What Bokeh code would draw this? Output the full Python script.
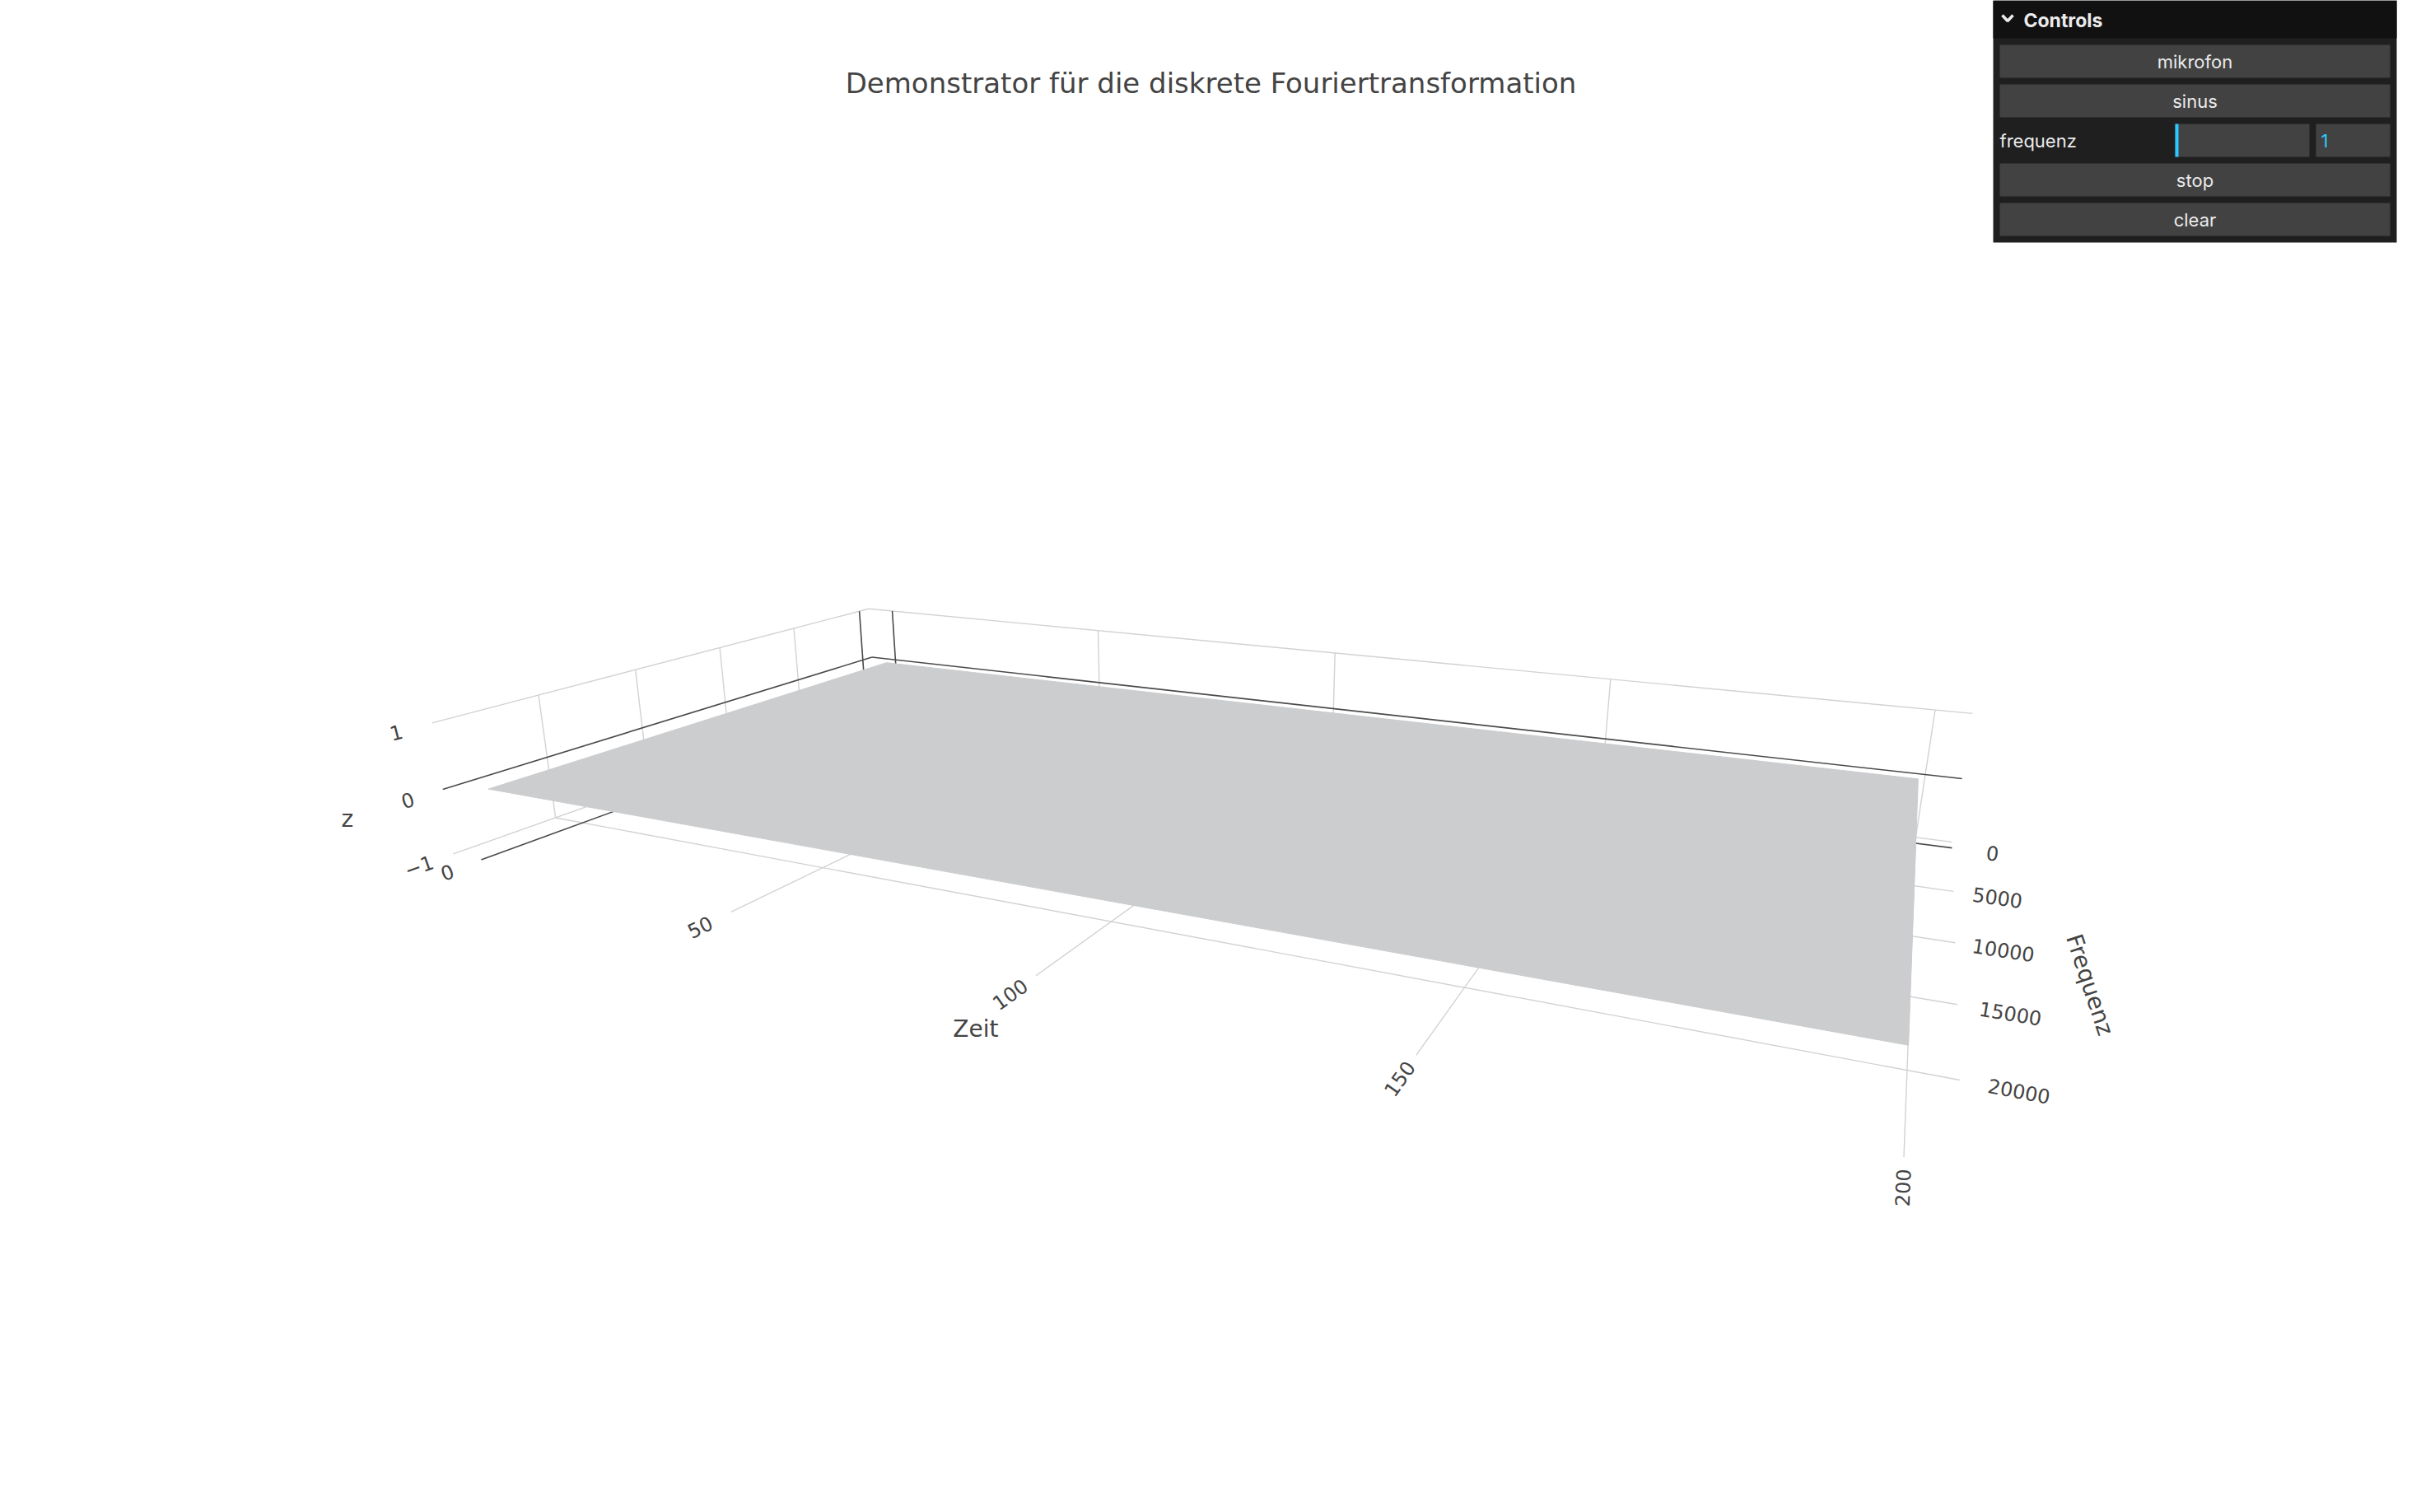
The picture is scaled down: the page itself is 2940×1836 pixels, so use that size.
import numpy as np
from bokeh.plotting import figure
from bokeh.models import Range1d
from bokeh.core.properties import value
from bokeh.embed import file_html
from bokeh.resources import INLINE

# ---------------- data ----------------
TITLE = "Demonstrator für die diskrete Fouriertransformation"
X_TITLE, Y_TITLE, Z_TITLE = "Zeit", "Frequenz", "z"

zeit = [0, 199]                 # time frames
freq = [0, 24000]               # frequency bins (Hz)
z_surface = [[0.0, 0.0],        # cleared spectrum: all zeros
             [0.0, 0.0]]

zeit_ticks = [0, 50, 100, 150, 200]
freq_ticks = [0, 5000, 10000, 15000, 20000]
z_ticks = [-1, 0, 1]
zeit_tick_labels = ["0", "50", "100", "150", "200"]
freq_tick_labels = ["0", "5000", "10000", "15000", "20000"]
z_tick_labels = ["\u22121", "0", "1"]

controls_title = "Controls"
control_rows = ["mikrofon", "sinus", "frequenz", "stop", "clear"]
frequenz_value, frequenz_min, frequenz_max = 1, 1, 1000

# ---------------- scene ranges (plotly-like 1/32 padding) ----------------
def padded(lo, hi):
    d = (hi - lo) / 32.0
    return lo - d, hi + d

X0, X1 = padded(min(zeit), max(zeit))
Y0, Y1 = padded(min(freq), max(freq))
Z0, Z1 = -1.0, 1.0

def norm(X, Y, Z):
    """scene data -> unit cube"""
    return ((np.asarray(X, float) - X0) / (X1 - X0),
            (np.asarray(Y, float) - Y0) / (Y1 - Y0),
            (np.asarray(Z, float) - Z0) / (Z1 - Z0))

# perspective camera: homogeneous projection of the unit scene cube to page pixels (/1000)
CAMERA = np.array([
    [0.6680151, -0.6690021, -0.0287026, 1.0622915],
    [-0.1090039, -0.1140037, -0.1309255, 0.8551930],
    [-0.2698187, -0.2848333, -0.0196239, 1.0000000],
])

def proj(X, Y, Z):
    xn, yn, zn = norm(X, Y, Z)
    h = CAMERA @ np.vstack([np.ravel(xn), np.ravel(yn), np.ravel(zn), np.ones(np.size(xn))])
    return h[0] / h[2] * 1000.0, h[1] / h[2] * 1000.0

def seg(a, b):
    sx, sy = proj([a[0], b[0]], [a[1], b[1]], [a[2], b[2]])
    return list(sx), list(sy)

def angle_of(a, b):
    (ax,), (ay,) = proj([a[0]], [a[1]], [a[2]])
    (bx,), (by,) = proj([b[0]], [b[1]], [b[2]])
    return float(np.arctan2(-(by - ay), bx - ax))

# ---------------- figure ----------------
W, H = 2924, 1820
p = figure(width=W, height=H, x_range=Range1d(0, W), y_range=Range1d(H, 0),
           output_backend="svg", toolbar_location=None, min_border=0,
           x_axis_location=None, y_axis_location=None)
p.grid.visible = False
p.outline_line_color = None
p.background_fill_color = "white"
p.border_fill_color = "white"

FONT = value("DejaVu Sans")
TXT = "#444444"

p.text(x=[1470], y=[100], text=[TITLE], text_font=FONT, text_font_size="34px",
       text_color=TXT, text_align="center", text_baseline="middle")

# ---------------- wall grids ----------------
grid_xs, grid_ys, zero_xs, zero_ys = [], [], [], []
def add(a, b, is_zero):
    sx, sy = seg(a, b)
    (zero_xs if is_zero else grid_xs).append(sx)
    (zero_ys if is_zero else grid_ys).append(sy)

for zt in z_ticks:          # left wall + back wall, z lines
    add((X0, Y0, zt), (X0, Y1, zt), zt == 0)
    add((X0, Y0, zt), (X1, Y0, zt), zt == 0)
for ft in freq_ticks:       # left wall verticals + floor
    add((X0, ft, Z0), (X0, ft, Z1), ft == 0)
    add((X0, ft, Z0), (X1, ft, Z0), ft == 0)
for t in zeit_ticks:        # back wall verticals + floor
    add((t, Y0, Z0), (t, Y0, Z1), t == 0)
    add((t, Y0, Z0), (t, Y1, Z0), t == 0)

p.multi_line(xs=grid_xs, ys=grid_ys, line_color="#d2d2d2", line_width=1.4)
p.multi_line(xs=zero_xs, ys=zero_ys, line_color="#4a4a4a", line_width=1.6)

# ---------------- surface ----------------
zs = np.array(z_surface)
px, py = [], []
for i in range(len(freq) - 1):
    for j in range(len(zeit) - 1):
        cx = [zeit[j], zeit[j + 1], zeit[j + 1], zeit[j]]
        cy = [freq[i], freq[i], freq[i + 1], freq[i + 1]]
        cz = [zs[i, j], zs[i, j + 1], zs[i + 1, j + 1], zs[i + 1, j]]
        sx, sy = proj(cx, cy, cz)
        px.append(list(sx)); py.append(list(sy))
p.patches(xs=px, ys=py, fill_color="#cccdcf", line_color="#cccdcf", line_width=1)

# ---------------- tick labels ----------------
lx, ly, la = [], [], []
for t in zeit_ticks:
    (x,), (y,) = proj([t], [Y1 + 1450], [Z0])
    lx.append(x); ly.append(y); la.append(angle_of((t, Y1, Z0), (t, Y1 - 2000, Z0)))
p.text(x=lx, y=ly, text=zeit_tick_labels, angle=la, text_font=FONT, text_font_size="24px",
       text_color=TXT, text_align="center", text_baseline="middle")

lx, ly, la = [], [], []
for f in freq_ticks:
    (x,), (y,) = proj([X1 + 5.7], [f], [Z0])
    lx.append(x); ly.append(y); la.append(angle_of((X1 - 10, f, Z0), (X1, f, Z0)))
p.text(x=lx, y=ly, text=freq_tick_labels, angle=la, text_font=FONT, text_font_size="24px",
       text_color=TXT, text_align="center", text_baseline="middle")

lx, ly, la = [], [], []
for zt in z_ticks:
    (x,), (y,) = proj([X0], [Y1 + 1450], [zt])
    lx.append(x); ly.append(y); la.append(angle_of((X0, Y1, zt), (X0, Y1 - 2000, zt)))
p.text(x=lx, y=ly, text=z_tick_labels, angle=la, text_font=FONT, text_font_size="24px",
       text_color=TXT, text_align="center", text_baseline="middle")

# ---------------- axis titles ----------------
(tx,), (ty,) = proj([(zeit[0] + zeit[-1]) / 2 + 2], [Y1 + 3800], [Z0])
p.text(x=[tx], y=[ty], text=[X_TITLE], text_font=FONT, text_font_size="28px",
       text_color=TXT, text_align="center", text_baseline="middle")
(tx,), (ty,) = proj([X1 + 15.0], [(freq[0] + freq[-1]) / 2 - 200], [Z0])
p.text(x=[tx], y=[ty], text=[Y_TITLE], angle=[-1.25], text_font=FONT, text_font_size="28px",
       text_color=TXT, text_align="center", text_baseline="middle")
(tx,), (ty,) = proj([X0], [Y1 + 3800], [0])
p.text(x=[tx], y=[ty], text=[Z_TITLE], text_font=FONT, text_font_size="28px",
       text_color=TXT, text_align="center", text_baseline="middle")

# ---------------- control panel (lil-gui look) ----------------
PL, PR = 2420, 2910
p.quad(left=[PL], right=[PR], top=[0], bottom=[294], fill_color="#1f1f1f", line_color=None)
p.quad(left=[PL], right=[PR], top=[0], bottom=[46], fill_color="#111111", line_color=None)
p.line(x=[2431, 2437.5, 2444], y=[18, 25, 18], line_color="#ebebeb", line_width=3.5)
p.text(x=[2457], y=[24], text=[controls_title], text_font=value("Inter"), text_font_size="23px",
       text_font_style="bold", text_color="#ebebeb", text_align="left", text_baseline="middle")

UI = value("Inter")
row_top = [54 + 48 * i for i in range(len(control_rows))]
for name, top in zip(control_rows, row_top):
    cy = top + 20
    if name == "frequenz":
        p.text(x=[2428], y=[cy], text=[name], text_font=UI, text_font_size="22px",
               text_color="#ebebeb", text_align="left", text_baseline="middle")
        p.quad(left=[2641], right=[2804], top=[top], bottom=[top + 40], fill_color="#424242", line_color=None)
        frac = (frequenz_value - frequenz_min) / (frequenz_max - frequenz_min)
        p.quad(left=[2641], right=[2641 + frac * 163 + 4], top=[top], bottom=[top + 40],
               fill_color="#2cc9ff", line_color=None)
        p.quad(left=[2812], right=[2902], top=[top], bottom=[top + 40], fill_color="#424242", line_color=None)
        p.text(x=[2818], y=[cy], text=[str(frequenz_value)], text_font=UI, text_font_size="22px",
               text_color="#2cc9ff", text_align="left", text_baseline="middle")
    else:
        p.quad(left=[2428], right=[2902], top=[top], bottom=[top + 40], fill_color="#424242", line_color=None)
        p.text(x=[2665], y=[cy], text=[name], text_font=UI, text_font_size="22px",
               text_color="#ebebeb", text_align="center", text_baseline="middle")

open("out.html", "w").write(file_html(p, INLINE))
